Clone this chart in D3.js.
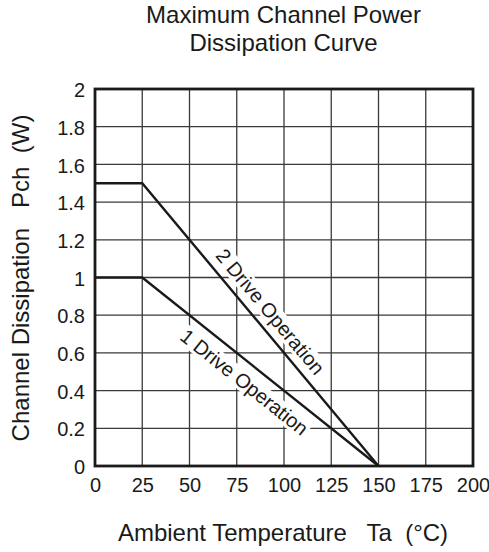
<!DOCTYPE html>
<html>
<head>
<meta charset="utf-8">
<script src="https://cdn.jsdelivr.net/npm/d3@7"></script>
<style>
  html, body { margin: 0; padding: 0; background: #fff; }
  svg text { font-family: "Liberation Sans", Arial, sans-serif; fill: #1a1a1a; }
</style>
</head>
<body>
<div id="chart"></div>
<script>
// Derating curves: ambient temperature (°C) vs channel dissipation (W)
const driveTwo = [ { t: 0, p: 1.5 }, { t: 25, p: 1.5 }, { t: 150, p: 0 } ];
const driveOne = [ { t: 0, p: 1.0 }, { t: 25, p: 1.0 }, { t: 150, p: 0 } ];
const xTicks = [0, 25, 50, 75, 100, 125, 150, 175, 200];
const yTicks = [0, 0.2, 0.4, 0.6, 0.8, 1, 1.2, 1.4, 1.6, 1.8, 2];
const titleLines = ["Maximum Channel Power", "Dissipation Curve"];

const fullWidth = 489;
const fullHeight = 552;
const margin = { top: 89, right: 16, bottom: 86, left: 95 };
const width = fullWidth - margin.left - margin.right;
const height = fullHeight - margin.top - margin.bottom;

const root = d3.select("#chart").append("svg")
  .attr("width", fullWidth)
  .attr("height", fullHeight);

const svg = root.append("g")
  .attr("transform", `translate(${margin.left},${margin.top})`);

const x = d3.scaleLinear().domain([0, 200]).range([0, width]);
const y = d3.scaleLinear().domain([0, 2]).range([height, 0]);

// grid
svg.append("g")
  .selectAll("line")
  .data(xTicks.slice(1, -1))
  .enter().append("line")
  .attr("x1", d => x(d)).attr("x2", d => x(d))
  .attr("y1", 0).attr("y2", height)
  .attr("stroke", "#3a3a3a").attr("stroke-width", 1.3);

svg.append("g")
  .selectAll("line")
  .data(yTicks.slice(1, -1))
  .enter().append("line")
  .attr("x1", 0).attr("x2", width)
  .attr("y1", d => y(d)).attr("y2", d => y(d))
  .attr("stroke", "#3a3a3a").attr("stroke-width", 1.3);

// tick labels
svg.append("g")
  .attr("transform", `translate(0,${height})`)
  .call(d3.axisBottom(x).tickValues(xTicks).tickSize(0))
  .call(g => g.select(".domain").remove())
  .selectAll("text")
  .attr("y", 26).attr("dy", 0)
  .attr("font-size", 20)
  .attr("font-family", null)
  .attr("fill", null);

svg.append("g")
  .call(d3.axisLeft(y).tickValues(yTicks).tickSize(0).tickFormat(d3.format("~g")))
  .call(g => g.select(".domain").remove())
  .selectAll("text")
  .attr("x", -10).attr("dy", "0.38em")
  .attr("font-size", 20)
  .attr("font-family", null)
  .attr("fill", null);

// curve labels, white backing knocks out the grid behind them
function curveLabel(text, pts, along, offset) {
  const a = pts[1], b = pts[2];
  const x1 = x(a.t), y1 = y(a.p), x2 = x(b.t), y2 = y(b.p);
  const rad = Math.atan2(y2 - y1, x2 - x1);
  const px = x1 + (x2 - x1) * along - Math.sin(rad) * offset;
  const py = y1 + (y2 - y1) * along + Math.cos(rad) * offset;
  const g = svg.append("g")
    .attr("transform", `translate(${px},${py}) rotate(${rad * 180 / Math.PI})`);
  const t = g.append("text")
    .attr("text-anchor", "middle")
    .attr("dy", "0.35em")
    .attr("font-size", 20)
    .text(text);
  const bb = t.node().getBBox();
  g.insert("rect", "text")
    .attr("x", bb.x - 2).attr("y", bb.y + 1)
    .attr("width", bb.width + 4).attr("height", bb.height - 2)
    .attr("fill", "#fff");
}

curveLabel("2 Drive Operation", driveTwo, 0.49, -16);
curveLabel("1 Drive Operation", driveOne, 0.48, 18);

// curves
const line = d3.line().x(d => x(d.t)).y(d => y(d.p));
[driveTwo, driveOne].forEach(s => {
  svg.append("path")
    .datum(s)
    .attr("d", line)
    .attr("fill", "none")
    .attr("stroke", "#1a1a1a")
    .attr("stroke-width", 2.4);
});

// frame
svg.append("rect")
  .attr("width", width).attr("height", height)
  .attr("fill", "none")
  .attr("stroke", "#1a1a1a")
  .attr("stroke-width", 2.8);

// titles
root.append("text")
  .attr("text-anchor", "middle")
  .attr("font-size", 24)
  .selectAll("tspan")
  .data(titleLines)
  .enter().append("tspan")
  .attr("x", 283.5)
  .attr("y", (d, i) => 23 + i * 28)
  .text(d => d);

root.append("text")
  .attr("x", 283).attr("y", 541)
  .attr("text-anchor", "middle")
  .attr("font-size", 24)
  .attr("xml:space", "preserve")
  .text("Ambient Temperature   Ta  (\u00b0C)");

root.append("text")
  .attr("transform", "translate(29,278) rotate(-90)")
  .attr("text-anchor", "middle")
  .attr("font-size", 24)
  .attr("xml:space", "preserve")
  .text("Channel Dissipation   Pch  (W)");
</script>
</body>
</html>
